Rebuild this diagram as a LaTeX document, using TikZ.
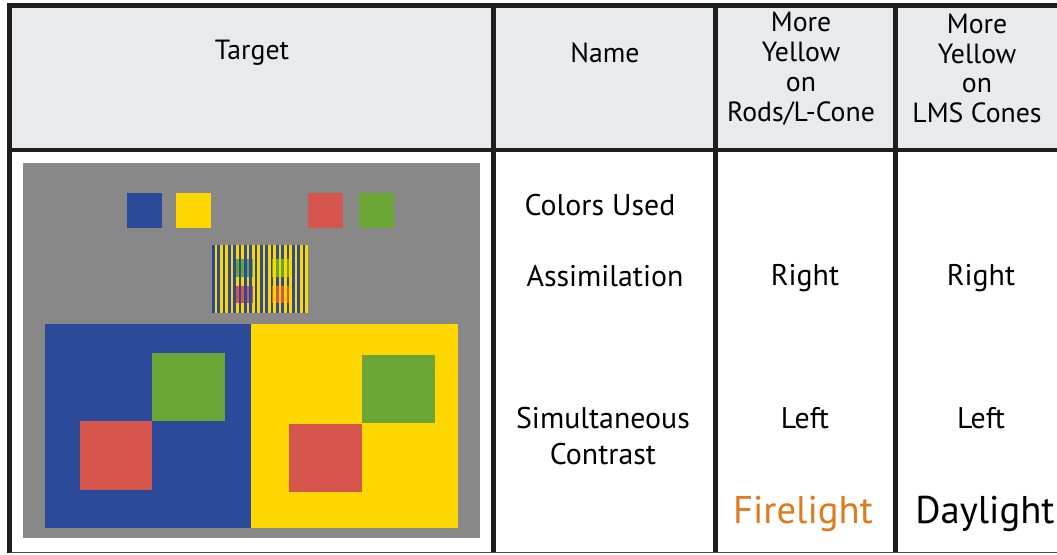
\documentclass[tikz,border=0pt]{standalone}
\usepackage{fontspec}
\setmainfont{PT Sans}
\usetikzlibrary{positioning}

\definecolor{headgray}{HTML}{E9EAEC}
\definecolor{bggray}{HTML}{878887}
\definecolor{tblue}{HTML}{2B4A9A}
\definecolor{tyellow}{HTML}{FED700}
\definecolor{tred}{HTML}{D6564D}
\definecolor{tgreen}{HTML}{6AA535}
\definecolor{fireorange}{HTML}{E07A1F}
\definecolor{rulecol}{HTML}{1E1E1E}

\tikzset{
  grid/.style={draw=rulecol, line width=2.8pt},
  head/.style={font=\fontsize{15.8}{17}\selectfont, align=center, inner sep=0pt},
  body/.style={font=\fontsize{17}{20.5}\selectfont, align=center, inner sep=0pt},
  light/.style={font=\fontsize{22}{24}\selectfont, inner sep=0pt},
}

\begin{document}
\begin{tikzpicture}[x=0.02cm, y=-0.02cm]
\useasboundingbox (0,0) rectangle (1057,554);

% header background
\fill[headgray] (9.5,5.5) rectangle (1057,150);

% target: grey field
\fill[bggray] (23,163) rectangle (480,538);
% colours used
\fill[tblue] (127,193) rectangle (162,228);
\fill[tyellow] (176,193) rectangle (211,228);
\fill[tred] (308,193) rectangle (343,228);
\fill[tgreen] (359,193) rectangle (394,228);

% assimilation: stripes
\fill[tyellow] (212,245) rectangle (308,313);
\fill[tgreen] (234,259) rectangle (253,277);
\fill[tred] (234,286) rectangle (253,303);
\foreach \i in {0,...,17}
  \fill[tblue] (212+\i*5.333,245) rectangle (214.667+\i*5.333,313);
\begin{scope}
  \clip (272,259) rectangle (290,277) (272,286) rectangle (290,303);
  \foreach \i in {0,...,17} {
    \fill[tgreen] (212+\i*5.333,259) rectangle (214.667+\i*5.333,277);
    \fill[tred] (212+\i*5.333,286) rectangle (214.667+\i*5.333,303);
  }
\end{scope}

% simultaneous contrast
\fill[tblue] (45,324) rectangle (251,528);
\fill[tyellow] (251,324) rectangle (458,528);
\fill[tgreen] (152,353) rectangle (225,421);
\fill[tred] (80,421) rectangle (152,490);
\fill[tgreen] (362,355) rectangle (435,423);
\fill[tred] (289,424) rectangle (362,492);

% table rules
\draw[grid] (7,5.5) -- (1057,5.5);
\draw[grid] (9.5,5.5) -- (9.5,553);
\draw[grid] (9.5,150) -- (1057,150);
\draw[grid] (493.5,5.5) -- (493.5,553);
\draw[grid] (715.5,5.5) -- (715.5,553);
\draw[grid] (895.5,5.5) -- (895.5,553);
\draw[draw=rulecol!80, line width=1.1pt] (9.5,552.5) -- (1057,552.5);

% header
\node[head] (target) at (252,53) {Target};
\node[head] (name) at (605,53) {Name};
\node[head] (rods) at (801,68.5) {More\\Yellow\\on\\Rods/L-Cone};
\node[head] (lms) at (977,68.5) {More\\Yellow\\on\\LMS Cones};

% rows
\node[body] (used) at (600,205) {Colors Used};
\node[body] (assim) at (605,276) {Assimilation};
\node[body] (simul) at (603,436) {Simultaneous\\Contrast};
\node[body] (rodsR) at (805,278) {Right};
\node[body] (lmsR) at (981,278) {Right};
\node[body] (rodsL) at (805,418) {Left};
\node[body] (lmsL) at (981,418) {Left};
\node[light, text=fireorange] (fire) at (803,514) {Firelight};
\node[light] (day) at (985,514) {Daylight};
\end{tikzpicture}
\end{document}
